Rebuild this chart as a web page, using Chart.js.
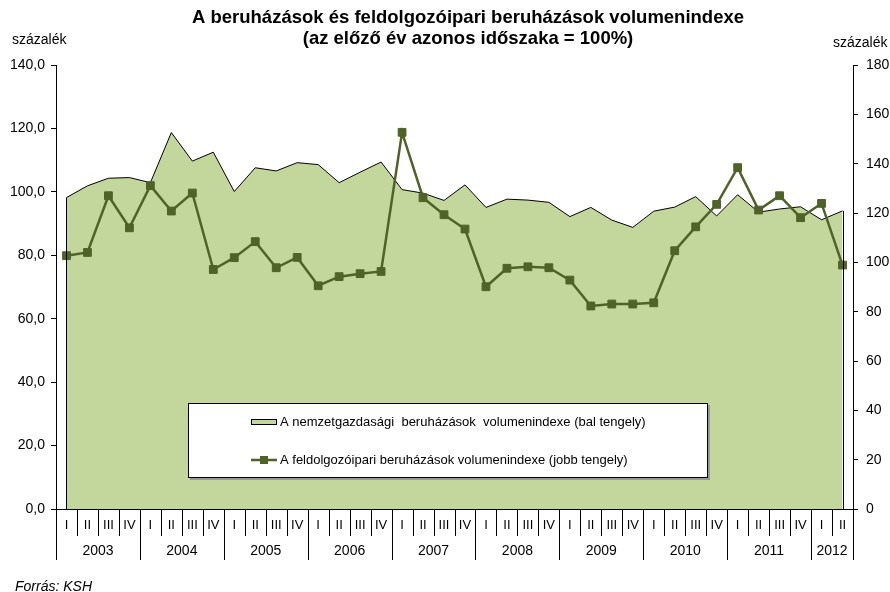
<!DOCTYPE html>
<html>
<head>
<meta charset="utf-8">
<script src="https://cdn.jsdelivr.net/npm/chart.js@4.4.0/dist/chart.umd.min.js"></script>
<style>
  html, body { margin: 0; padding: 0; background: #fff; }
</style>
</head>
<body>
<canvas id="chart" width="890" height="592"></canvas>
<script>
// negyedévek és évek
const quarters = ['I','II','III','IV','I','II','III','IV','I','II','III','IV','I','II','III','IV',
    'I','II','III','IV','I','II','III','IV','I','II','III','IV','I','II','III','IV','I','II','III','IV','I','II'];
const years = ['2003','2004','2005','2006','2007','2008','2009','2010','2011','2012'];
const yearQuarters = [4, 4, 4, 4, 4, 4, 4, 4, 4, 2];

// bal tengely: nemzetgazdasági beruházások
const nationalIndex = [98.2, 101.9, 104.3, 104.5, 102.9, 118.7, 109.7, 112.5, 100.1, 107.6, 106.6, 109.2,
    108.6, 102.9, 106.2, 109.4, 100.7, 99.6, 97.3, 102.2, 95.1, 97.7, 97.4, 96.7, 92.2, 95.1, 91.1, 88.8,
    93.9, 95.2, 98.5, 92.4, 99.1, 93.6, 94.6, 95.3, 91.2, 94.0];
// jobb tengely: feldolgozóipari beruházások
const manufacturingIndex = [102.7, 104.0, 127.0, 114.0, 131.1, 120.8, 128.1, 97.1, 101.9, 108.4, 97.8, 102.0,
    90.5, 94.2, 95.4, 96.3, 152.7, 126.2, 119.3, 113.5, 90.1, 97.6, 98.2, 97.8, 92.8, 82.3, 83.1, 83.1,
    83.6, 104.7, 114.4, 123.5, 138.4, 121.2, 127.0, 118.1, 123.9, 98.9];

const titleLines = ['A beruházások és feldolgozóipari beruházások volumenindexe', '(az előző év azonos időszaka = 100%)'];
const legendLabels = ['A nemzetgazdasági  beruházások  volumenindexe (bal tengely)',
    'A feldolgozóipari beruházások volumenindexe (jobb tengely)'];

const FONT = '"Liberation Sans", Arial, sans-serif';
const AREA_COLOR = '#c3d69b';
const LINE_COLOR = '#4f6228';

Chart.defaults.font.family = FONT;
Chart.defaults.color = '#000';

// cím, feliratok, jelmagyarázat, évek
const decorations = {
    id: 'decorations',
    afterDraw(chart) {
        const ctx = chart.ctx;
        const x = chart.scales.x;
        const area = chart.chartArea;
        const step = x.getPixelForValue(1) - x.getPixelForValue(0);
        ctx.save();

        // cím
        ctx.fillStyle = '#000';
        ctx.textAlign = 'center';
        ctx.textBaseline = 'middle';
        ctx.font = 'bold 18.5px ' + FONT;
        ctx.fillText(titleLines[0], 468, 18);
        ctx.fillText(titleLines[1], 468, 39);

        ctx.font = '14px ' + FONT;
        ctx.textAlign = 'left';
        ctx.fillText('százalék', 12, 40);
        ctx.fillText('százalék', 833, 43);

        // terület szélei
        const meta = chart.getDatasetMeta(0);
        const base = chart.scales.y.getPixelForValue(0);
        ctx.strokeStyle = '#000';
        ctx.lineWidth = 1;
        [meta.data[0], meta.data[meta.data.length - 1]].forEach(p => {
            const px = Math.round(p.x) + 0.5;
            ctx.beginPath();
            ctx.moveTo(px, p.y);
            ctx.lineTo(px, base);
            ctx.stroke();
        });

        // negyedév / év elválasztók
        const bounds = [0];
        let idx = 0;
        yearQuarters.forEach(n => { idx += n; bounds.push(idx); });
        for (let i = 0; i <= quarters.length; i++) {
            const px = Math.round(x.getPixelForValue(i) - step / 2) + 0.5;
            ctx.beginPath();
            ctx.moveTo(px, area.bottom);
            ctx.lineTo(px, bounds.includes(i) ? 560 : 536);
            ctx.stroke();
        }
        ctx.textAlign = 'center';
        ctx.font = '14px ' + FONT;
        years.forEach((yr, i) => {
            const a = x.getPixelForValue(bounds[i]) - step / 2;
            const b = x.getPixelForValue(bounds[i + 1]) - step / 2;
            ctx.fillText(yr, (a + b) / 2, 551);
        });

        // forrás
        ctx.textAlign = 'left';
        ctx.font = 'italic 14px ' + FONT;
        ctx.fillText('Forrás: KSH', 15, 587);

        // jelmagyarázat
        ctx.fillStyle = '#999';
        ctx.fillRect(190, 405, 520, 75);
        ctx.fillStyle = '#fff';
        ctx.fillRect(188, 403, 520, 75);
        ctx.strokeStyle = '#000';
        ctx.strokeRect(188.5, 403.5, 519, 74);

        ctx.fillStyle = AREA_COLOR;
        ctx.fillRect(251, 419, 26, 6);
        ctx.strokeRect(251.5, 419.5, 25, 5);

        ctx.strokeStyle = LINE_COLOR;
        ctx.lineWidth = 2.5;
        ctx.beginPath();
        ctx.moveTo(251, 460);
        ctx.lineTo(277, 460);
        ctx.stroke();
        ctx.fillStyle = LINE_COLOR;
        ctx.fillRect(260, 456, 8, 8);

        ctx.fillStyle = '#000';
        ctx.font = '13px ' + FONT;
        ctx.textBaseline = 'middle';
        ctx.fillText(legendLabels[0], 280, 422);
        ctx.fillText(legendLabels[1], 280, 460);
        ctx.restore();
    }
};

const formatComma = v => v.toFixed(1).replace('.', ',');

const chart = new Chart(document.getElementById('chart').getContext('2d'), {
    type: 'line',
    data: {
        labels: quarters,
        datasets: [{
            label: legendLabels[0],
            data: nationalIndex,
            yAxisID: 'y',
            fill: 'origin',
            backgroundColor: AREA_COLOR,
            borderColor: '#000',
            borderWidth: 1,
            pointRadius: 0,
            tension: 0,
            order: 2
        }, {
            label: legendLabels[1],
            data: manufacturingIndex,
            yAxisID: 'y1',
            fill: false,
            borderColor: LINE_COLOR,
            borderWidth: 2.5,
            pointStyle: 'rect',
            pointRadius: 5.5,
            pointBackgroundColor: LINE_COLOR,
            pointBorderColor: LINE_COLOR,
            pointBorderWidth: 1,
            tension: 0,
            order: 1
        }]
    },
    options: {
        responsive: false,
        animation: false,
        layout: { padding: { top: 65, left: 0, right: 0, bottom: 0 } },
        plugins: {
            legend: { display: false },
            title: { display: false },
            tooltip: { enabled: false }
        },
        scales: {
            x: {
                type: 'category',
                offset: true,
                grid: { drawOnChartArea: false, drawTicks: false },
                border: { color: '#000', width: 1 },
                ticks: { autoSkip: false, maxRotation: 0, padding: 9, font: { size: 13 }, color: '#000' },
                afterFit: s => { s.height = 83; }
            },
            y: {
                position: 'left',
                min: 0,
                max: 140,
                ticks: { stepSize: 20, padding: 6, font: { size: 14 }, color: '#000', callback: formatComma },
                grid: { drawOnChartArea: false, tickLength: 5, color: '#000' },
                border: { color: '#000', width: 1 },
                afterFit: s => { s.width = 56; }
            },
            y1: {
                position: 'right',
                min: 0,
                max: 180,
                ticks: { stepSize: 20, padding: 8, font: { size: 14 }, color: '#000' },
                grid: { drawOnChartArea: false, tickLength: 5, color: '#000' },
                border: { color: '#000', width: 1 },
                afterFit: s => { s.width = 37; }
            }
        }
    },
    plugins: [decorations]
});
</script>
</body>
</html>
